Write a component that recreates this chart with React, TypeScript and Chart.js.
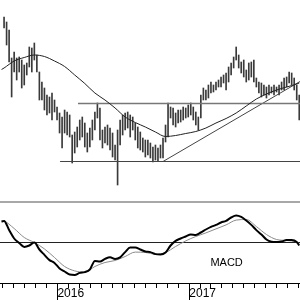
import React, { useEffect, useRef } from 'react';
import { Chart, registerables } from 'chart.js';

Chart.register(...registerables);
Chart.defaults.font.family = '"Liberation Sans", Arial, sans-serif';

// ---- time axis (x in weeks; week 0 = first weekly bar, 2015-08-06) ----
const X_MIN = -1.61;
const X_MAX = 117.3;
const yearLabels = ['2016', '2017'];
const yearStarts = [2016, 2017];

// ---- weekly price bars (high / low), one per week starting at week 0 ----
const barHigh = [
  38.3, 37.8, 37.0, 34.2, 34.8, 34.2, 34.3, 34.0, 33.5, 33.7,
  35.3, 35.2, 35.7, 34.5, 32.8, 31.8, 31.2, 30.5, 30.3, 30.7,
  30.0, 29.3, 28.7, 28.3, 29.0, 28.8, 28.5, 26.5, 26.8, 27.3,
  28.0, 28.3, 27.7, 26.7, 27.2, 28.0, 28.8, 29.7, 29.2, 27.0,
  27.3, 27.5, 27.2, 26.7, 25.5, 27.0, 28.0, 28.5, 28.7, 28.8,
  28.5, 28.3, 27.7, 27.3, 26.8, 26.2, 26.0, 26.0, 25.7, 25.3,
  25.5, 25.2, 25.5, 26.2, 27.5, 29.7, 29.3, 29.2, 28.7, 29.0,
  29.0, 29.3, 29.2, 29.5, 29.7, 29.3, 28.8, 28.3, 30.5, 31.2,
  31.0, 31.5, 31.8, 31.5, 31.8, 32.0, 32.3, 32.5, 32.7, 33.3,
  33.7, 34.3, 35.3, 34.5, 33.8, 34.0, 33.0, 33.7, 33.8, 34.0,
  32.2, 31.8, 31.7, 31.5, 31.3, 31.5, 31.3, 31.5, 31.3, 31.5,
  31.8, 32.2, 32.3, 32.8, 32.7, 32.2, 31.5, 30.5,
];
const barLow = [
  37.2, 35.5, 33.8, 30.3, 32.8, 32.0, 32.8, 31.2, 31.5, 32.5,
  33.3, 32.8, 34.0, 32.8, 30.0, 30.0, 29.0, 28.5, 28.7, 28.0,
  28.8, 28.0, 26.7, 25.2, 26.7, 26.5, 26.3, 23.7, 24.7, 25.3,
  26.0, 26.3, 25.3, 24.8, 25.3, 26.0, 27.0, 28.2, 26.0, 25.2,
  25.7, 25.5, 25.0, 24.3, 24.0, 21.5, 25.5, 26.5, 27.0, 27.2,
  26.3, 27.0, 26.0, 25.2, 25.0, 24.8, 24.3, 24.5, 24.2, 23.8,
  24.0, 23.9, 24.2, 24.2, 25.8, 26.3, 28.2, 27.5, 27.3, 27.7,
  27.8, 28.0, 28.2, 28.3, 28.5, 28.0, 27.5, 27.0, 28.2, 30.0,
  30.0, 30.2, 30.7, 30.8, 31.0, 31.3, 31.3, 31.7, 31.0, 31.8,
  32.5, 33.2, 34.0, 33.2, 32.7, 32.3, 31.8, 32.0, 32.3, 31.8,
  31.3, 30.7, 30.3, 30.5, 30.2, 30.5, 30.7, 30.5, 30.8, 30.5,
  31.0, 31.0, 31.3, 31.7, 31.5, 31.0, 30.0, 28.0,
];

// ---- moving average ----
const maWeeks = [-1, 0, 4, 8, 12, 16, 20, 24, 28, 32, 36, 40, 44, 48, 52, 56, 60, 64, 68, 72, 76, 80, 84, 88, 92, 96, 100, 104, 108, 112, 116, 117];
const maValues = [33.05, 33.2, 33.9, 34.25, 34.5, 34.35, 33.9, 33.35, 32.5, 31.65, 30.7, 30.0, 29.2, 28.3, 27.75, 27.3, 26.8, 26.35, 26.45, 26.65, 26.85, 27.2, 27.7, 28.15, 28.7, 29.4, 30.1, 30.6, 31.0, 31.3, 31.6, 31.7];

// ---- drawn levels ----
const supportLevel = 23.85;
const supportStartWeek = 22.2;
const resistanceLevel = 29.65;
const resistanceStartWeek = 29.3;
const trendWeeks = [63.0, 117.3];
const trendValues = [23.85, 31.85];

// ---- MACD ----
const macdWeeks = [-1, 0, 2, 4, 6, 8, 10, 12, 14, 16, 18, 20, 22, 24, 26, 28, 30, 32, 34, 36, 38, 40, 42, 44, 46, 48, 50, 52, 54, 56, 58, 60, 62, 64, 66, 68, 70, 72, 74, 76, 78, 80, 82, 84, 86, 88, 90, 92, 94, 96, 98, 100, 102, 104, 106, 108, 110, 112, 114, 116, 117];
const macdValues = [0.52, 0.54, 0.31, 0.10, -0.01, -0.11, -0.075, 0.0, -0.175, -0.31, -0.44, -0.51, -0.65, -0.725, -0.80, -0.81, -0.76, -0.74, -0.675, -0.46, -0.475, -0.41, -0.37, -0.41, -0.37, -0.24, -0.125, -0.125, -0.175, -0.225, -0.24, -0.29, -0.30, -0.25, -0.075, 0.04, 0.10, 0.15, 0.20, 0.19, 0.25, 0.325, 0.39, 0.44, 0.50, 0.54, 0.625, 0.675, 0.64, 0.55, 0.44, 0.31, 0.20, 0.075, 0.02, 0.01, 0.025, 0.06, 0.06, 0.01, -0.075];
const signalWeeks = [-1, 0, 4, 8, 12, 16, 20, 24, 28, 32, 36, 40, 44, 48, 52, 56, 60, 64, 68, 72, 76, 80, 84, 88, 92, 96, 100, 104, 108, 112, 116, 117];
const signalValues = [0.55, 0.54, 0.35, 0.125, 0.0, -0.16, -0.375, -0.60, -0.71, -0.74, -0.60, -0.50, -0.45, -0.35, -0.24, -0.25, -0.29, -0.25, -0.10, 0.04, 0.15, 0.24, 0.34, 0.44, 0.56, 0.575, 0.40, 0.20, 0.075, 0.05, 0.01, -0.025];
const macdLabel = 'MACD';
const macdLabelAt = { week: 88.2, value: -0.51 };

// week position of the first day of a month
const weekOf = (y: number, m: number) =>
  ((Date.UTC(y, m, 1) - Date.UTC(2016, 0, 1)) / 86400000 + 148) / 7;

const monthTickWeeks: number[] = [];
for (let y = 2015; y <= 2017; y++) {
  for (let m = 0; m < 12; m++) {
    const w = weekOf(y, m);
    if (w >= X_MIN && w <= X_MAX) monthTickWeeks.push(w);
  }
}
const yearTickWeeks = yearStarts.map((y) => weekOf(y, 0));

const pts = (xs: number[], ys: number[]) => xs.map((x, i) => ({ x, y: ys[i] }));

const macdLabelPlugin = {
  id: 'macdLabel',
  afterDatasetsDraw(chart: any) {
    const { ctx, scales } = chart;
    const x = scales.x.getPixelForValue(macdLabelAt.week);
    const y = scales.y.getPixelForValue(macdLabelAt.value);
    ctx.save();
    ctx.font = '11px "Liberation Sans", Arial, sans-serif';
    ctx.fillStyle = '#000';
    ctx.textAlign = 'center';
    ctx.textBaseline = 'middle';
    ctx.fillText(macdLabel, x, y);
    ctx.restore();
  },
};

export default function App() {
  const priceRef = useRef<HTMLCanvasElement>(null);
  const macdRef = useRef<HTMLCanvasElement>(null);

  useEffect(() => {
    const lineDs = (data: any[], color: string, width: number, extra: any = {}) => ({
      type: 'line' as const,
      data,
      borderColor: color,
      borderWidth: width,
      pointRadius: 0,
      fill: false,
      order: 1,
      ...extra,
    });

    const price = new Chart(priceRef.current!, {
      type: 'line',
      data: {
        datasets: [
          {
            type: 'bar',
            data: barHigh.map((h, i) => ({ x: i, y: [barLow[i], h] })) as any,
            backgroundColor: '#3a3a3a',
            barThickness: 1,
            borderWidth: 0,
            order: 2,
          } as any,
          lineDs(pts(maWeeks, maValues), '#222', 1, { cubicInterpolationMode: 'monotone' }),
          lineDs([{ x: supportStartWeek, y: supportLevel }, { x: X_MAX, y: supportLevel }], '#444', 1),
          lineDs([{ x: resistanceStartWeek, y: resistanceLevel }, { x: X_MAX, y: resistanceLevel }], '#777', 1.3),
          lineDs(pts(trendWeeks, trendValues), '#444', 1),
        ],
      },
      options: {
        responsive: false,
        devicePixelRatio: 1,
        animation: false,
        events: [],
        layout: { padding: { left: 0, right: 0, top: 0, bottom: 2 } },
        plugins: { legend: { display: false }, tooltip: { enabled: false } },
        scales: {
          x: {
            type: 'linear',
            min: X_MIN,
            max: X_MAX,
            bounds: 'data',
            offset: false,
            grid: { display: false, drawTicks: false, offset: false },
            ticks: { display: false },
            border: { display: true, color: '#a8a8a8', width: 2 },
          },
          y: { type: 'linear', min: 19.8, max: 40, display: false },
        },
      },
    });

    const macd = new Chart(macdRef.current!, {
      type: 'line',
      data: {
        datasets: [
          lineDs([{ x: X_MIN, y: 0 }, { x: X_MAX, y: 0 }], '#222', 1, { order: 3 }),
          lineDs(pts(signalWeeks, signalValues), '#8a8a8a', 1, { cubicInterpolationMode: 'monotone', order: 2 }),
          lineDs(pts(macdWeeks, macdValues), '#000', 2, { cubicInterpolationMode: 'monotone', order: 1 }),
        ],
      },
      options: {
        responsive: false,
        devicePixelRatio: 1,
        animation: false,
        events: [],
        layout: { padding: 0 },
        plugins: { legend: { display: false }, tooltip: { enabled: false } },
        scales: {
          x: {
            type: 'linear',
            position: 'bottom',
            weight: 0,
            min: X_MIN,
            max: X_MAX,
            bounds: 'data',
            afterBuildTicks: (scale: any) => {
              scale.ticks = monthTickWeeks.map((v) => ({ value: v }));
            },
            grid: { display: true, drawOnChartArea: false, drawTicks: true, tickLength: 5, color: '#000', lineWidth: 1 },
            ticks: { display: false },
            border: { display: true, color: '#000', width: 1 },
          },
          x2: {
            type: 'linear',
            position: 'bottom',
            weight: 1,
            min: X_MIN,
            max: X_MAX,
            bounds: 'data',
            afterBuildTicks: (scale: any) => {
              scale.ticks = yearTickWeeks.map((v) => ({ value: v }));
            },
            grid: { display: true, drawOnChartArea: false, drawTicks: true, tickLength: 12, color: '#000', lineWidth: 1 },
            border: { display: false },
            ticks: {
              display: true,
              align: 'start',
              crossAlign: 'far',
              padding: -6,
              autoSkip: false,
              maxRotation: 0,
              color: '#000',
              font: { size: 12, lineHeight: 1 },
              callback: (value: any) => {
                const idx = yearTickWeeks.findIndex((t) => Math.abs(t - Number(value)) < 1e-6);
                return idx >= 0 ? yearLabels[idx] : '';
              },
            },
          },
          y: { type: 'linear', min: -1.0125, max: 0.9625, display: false },
        },
      },
      plugins: [macdLabelPlugin],
    });

    return () => {
      price.destroy();
      macd.destroy();
    };
  }, []);

  return (
    <div style={{ position: 'absolute', left: 0, top: 0, width: 300, height: 300, background: '#fff' }}>
      <canvas
        ref={priceRef}
        width={300}
        height={204}
        style={{ position: 'absolute', left: 0, top: 0, width: 300, height: 204, display: 'block' }}
      />
      <canvas
        ref={macdRef}
        width={300}
        height={96}
        style={{ position: 'absolute', left: 0, top: 204, width: 300, height: 96, display: 'block' }}
      />
    </div>
  );
}
